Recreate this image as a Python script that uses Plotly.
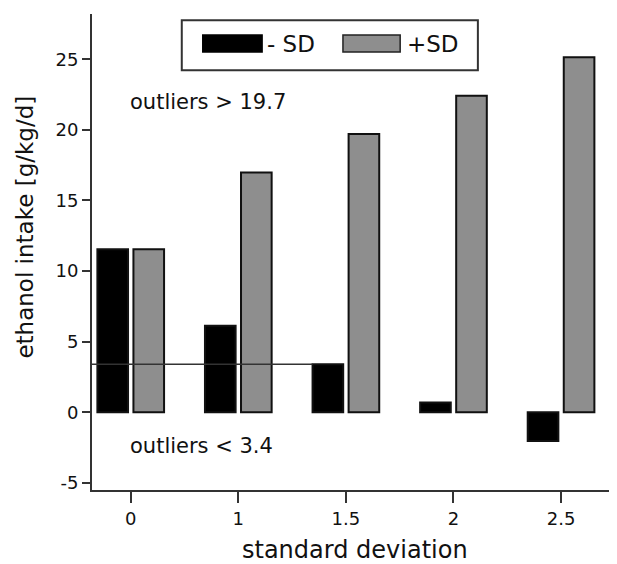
import plotly.graph_objects as go

# ---- data ----
categories = ["0", "1", "1.5", "2", "2.5"]
minus_sd = [11.55, 6.12, 3.40, 0.69, -2.03]
plus_sd = [11.55, 16.98, 19.70, 22.41, 25.13]
series_names = ["- SD", "+SD"]
upper_threshold = 19.7
lower_threshold = 3.4
y_ticks = [-5, 0, 5, 10, 15, 20, 25]
y_tick_labels = ["-5", "0", "5", "10", "15", "20", "25"]
x_title = "standard deviation"
y_title = "ethanol intake [g/kg/d]"

FONT = "DejaVu Sans"
AX = "#333333"
BLACK = "#000000"
GRAY = "#8e8e8e"

bargap = 0.33
bargroupgap = 0.15
x_range = [-0.36, 4.52]

fig = go.Figure()
fig.add_trace(go.Bar(x=categories, y=minus_sd, name=series_names[0],
                     marker=dict(color=BLACK, line=dict(color="#111111", width=2))))
fig.add_trace(go.Bar(x=categories, y=plus_sd, name=series_names[1],
                     marker=dict(color=GRAY, line=dict(color="#111111", width=2))))

# lower threshold line, from axis to the left edge of the "1.5" -SD bar
slot = (1 - bargap) / 2
idx = categories.index("1.5")
x_end = idx - (1 - bargap) / 2 + slot * bargroupgap / 2
fig.add_shape(type="line", xref="x", yref="y", x0=x_range[0], x1=x_end,
              y0=lower_threshold, y1=lower_threshold,
              line=dict(color="#333333", width=1.5), layer="above")

fig.add_annotation(xref="x domain", yref="y", x=0.068, y=22.0, xanchor="left",
                   yanchor="middle", showarrow=False,
                   text=f"outliers > {upper_threshold}",
                   font=dict(family=FONT, size=21, color="#111111"))
fig.add_annotation(xref="x domain", yref="y", x=0.068, y=-2.35, xanchor="left",
                   yanchor="middle", showarrow=False,
                   text=f"outliers < {lower_threshold}",
                   font=dict(family=FONT, size=21, color="#111111"))

# manual legend (wide swatches)
fig.add_shape(type="rect", xref="paper", yref="paper", x0=0.171, x1=0.735,
              y0=0.882, y1=0.987, line=dict(color="#333333", width=2),
              fillcolor="white", layer="above")
fig.add_shape(type="rect", xref="paper", yref="paper", x0=0.211, x1=0.324,
              y0=0.920, y1=0.956, line=dict(color=BLACK, width=1.5),
              fillcolor=BLACK, layer="above")
fig.add_shape(type="rect", xref="paper", yref="paper", x0=0.478, x1=0.587,
              y0=0.920, y1=0.956, line=dict(color="#222222", width=1.5),
              fillcolor=GRAY, layer="above")
fig.add_annotation(xref="paper", yref="paper", x=0.330, y=0.938, xanchor="left",
                   yanchor="middle", showarrow=False, text=series_names[0],
                   font=dict(family=FONT, size=23, color="#111111"))
fig.add_annotation(xref="paper", yref="paper", x=0.597, y=0.938, xanchor="left",
                   yanchor="middle", showarrow=False, text=series_names[1],
                   font=dict(family=FONT, size=23, color="#111111"))

# axis titles as annotations for exact placement
fig.add_annotation(xref="paper", yref="paper", x=0.5, y=-0.125, xanchor="center",
                   yanchor="middle", showarrow=False, text=x_title,
                   font=dict(family=FONT, size=24, color="#111111"))
fig.add_annotation(xref="paper", yref="paper", x=-0.128, y=0.553, xanchor="center",
                   yanchor="middle", showarrow=False, text=y_title, textangle=-90,
                   font=dict(family=FONT, size=23, color="#111111"))

# page body has an 8px margin, so the figure is drawn 8px in from the corner
fig.update_layout(
    width=609, height=556,
    margin=dict(l=84, r=0, t=6, b=74),
    paper_bgcolor="white", plot_bgcolor="white",
    barmode="group", bargap=bargap, bargroupgap=bargroupgap,
    showlegend=False,
    font=dict(family=FONT, color="#111111"),
)
fig.update_xaxes(
    type="category", range=x_range, categoryorder="array", categoryarray=categories,
    automargin=False,
    showline=True, linecolor=AX, linewidth=2, showgrid=False, zeroline=False,
    ticks="outside", ticklen=11, tickwidth=2, tickcolor=AX,
    tickfont=dict(family=FONT, size=18, color="#111111"),
)
fig.update_yaxes(
    range=[-5.5, 28.2], tickvals=y_ticks, ticktext=y_tick_labels,
    automargin=False,
    showline=True, linecolor=AX, linewidth=2, showgrid=False, zeroline=False,
    ticks="outside", ticklen=8, tickwidth=2, tickcolor=AX,
    tickfont=dict(family=FONT, size=18, color="#111111"),
)

fig.write_html("out.html")
